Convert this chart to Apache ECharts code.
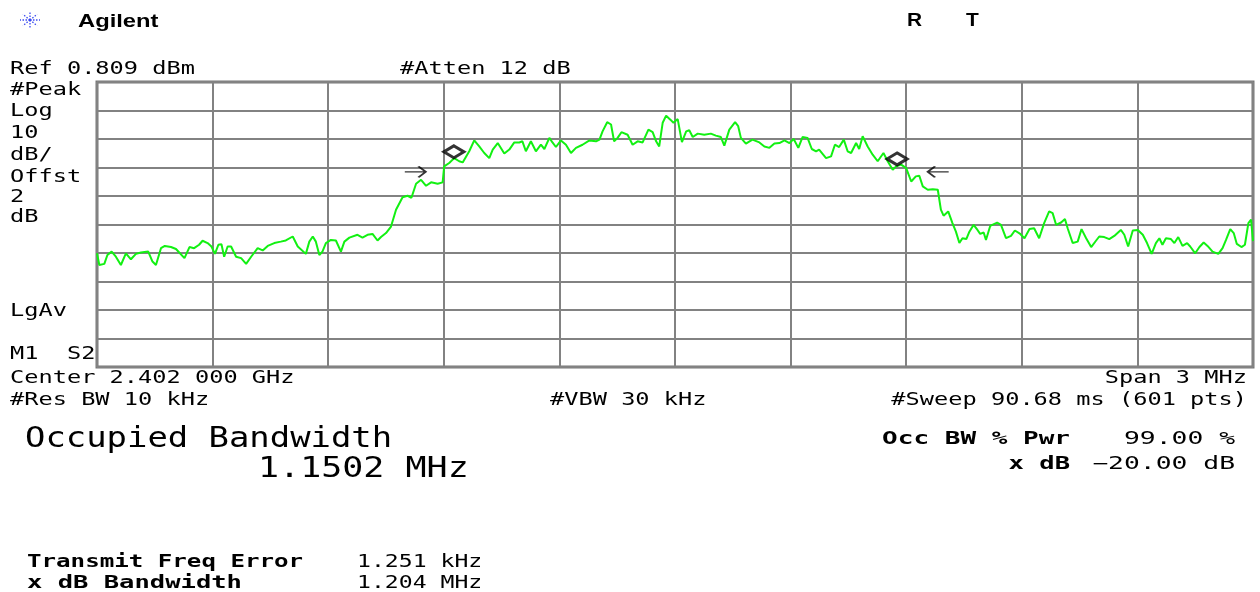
<!DOCTYPE html>
<html>
<head>
<meta charset="utf-8">
<script src="https://cdn.jsdelivr.net/npm/echarts@6/dist/echarts.min.js"></script>
<style>
  html, body { margin: 0; padding: 0; background: #fff; }
  #chart { width: 1260px; height: 592px; }
</style>
</head>
<body>
<div id="chart"></div>
<script>
// reference level of the display (dBm), 10 dB/div
const REF_LEVEL = 0.809

// trace: offset from center (kHz) and level (dBm)
const traceFreqKHz = [-1500,-1494,-1481,-1473,-1462,-1451,-1438,-1425,-1412,-1399,
  -1386,-1367,-1356,-1347,-1334,-1324,-1308,-1295,-1273,-1260,
  -1248,-1235,-1226,-1213,-1203,-1194,-1185,-1177,-1170,-1161,
  -1152,-1139,-1126,-1113,-1100,-1083,-1070,-1057,-1040,-1023,
  -1010,-992,-979,-958,-949,-940,-932,-923,-915,-906,
  -893,-880,-867,-858,-845,-824,-811,-798,-785,-772,
  -763,-750,-737,-724,-707,-694,-684,-672,-659,-646,
  -633,-616,-603,-599,-586,-573,-560,-551,-534,-521,
  -508,-495,-482,-473,-460,-443,-430,-417,-404,-396,
  -387,-374,-361,-348,-339,-326,-318,-309,-296,-283,
  -270,-257,-240,-222,-205,-196,-188,-176,-166,-158,
  -149,-139,-123,-110,-97,-84,-69,-58,-49,-41,
  -32,-23,-12,-4,7,18,29,37,46,59,
  76,93,106,119,128,141,156,164,171,184,
  201,219,232,245,258,271,284,297,308,320,
  331,344,355,366,374,392,405,415,426,438,
  448,457,470,478,487,500,513,526,541,552,
  565,574,587,600,613,625,634,643,656,669,
  682,690,697,709,720,729,738,746,756,764,
  775,785,792,801,807,818,836,846,859,872,
  882,896,907,920,932,945,958,971,980,989,
  1002,1012,1019,1032,1045,1055,1067,1080,1093,1101,
  1114,1127,1140,1157,1166,1176,1188,1201,1214,1225,
  1237,1248,1257,1265,1274,1287,1296,1306,1317,1329,
  1337,1350,1361,1372,1382,1395,1410,1421,1430,1441,
  1450,1458,1470,1479,1488,1495,1500]
const traceLevelDbm = [-59.3,-63.4,-63.0,-59.9,-58.7,-60.5,-63.4,-59.3,-61.4,-59.5,
  -59.0,-58.7,-62.2,-63.4,-57.5,-56.7,-57.1,-57.8,-61.0,-57.1,
  -57.5,-56.3,-54.9,-55.7,-56.9,-59.5,-56.3,-56.1,-60.5,-56.9,
  -56.9,-60.5,-61.0,-63.0,-60.5,-57.5,-58.3,-56.7,-55.7,-55.2,
  -54.8,-53.4,-56.9,-59.5,-55.2,-53.4,-55.2,-59.9,-58.7,-55.7,
  -54.6,-54.8,-58.7,-55.2,-53.8,-52.8,-53.8,-52.8,-52.5,-54.8,
  -53.6,-52.2,-49.9,-44.0,-39.6,-39.1,-39.8,-34.9,-33.5,-35.6,
  -34.4,-34.9,-34.4,-28.8,-27.6,-25.9,-27.0,-27.4,-23.5,-19.7,
  -21.8,-24.1,-25.9,-22.9,-20.6,-24.3,-22.9,-20.4,-20.4,-20.0,
  -23.5,-20.0,-23.5,-21.2,-22.7,-18.8,-20.4,-22.0,-19.7,-21.2,
  -24.1,-22.3,-21.2,-19.7,-20.0,-19.4,-16.5,-13.3,-14.1,-20.0,
  -18.8,-16.8,-17.7,-21.2,-20.0,-20.4,-15.9,-16.8,-20.0,-21.8,
  -13.5,-11.0,-12.4,-13.5,-12.2,-20.3,-16.5,-16.1,-18.5,-17.3,
  -17.7,-17.3,-18.0,-18.5,-21.5,-15.9,-13.3,-14.7,-18.8,-20.8,
  -19.4,-20.4,-21.8,-22.3,-20.8,-20.6,-19.7,-20.6,-19.2,-22.3,
  -18.5,-18.8,-22.7,-23.5,-22.9,-25.9,-25.3,-21.2,-22.0,-19.4,
  -23.5,-24.1,-20.6,-22.7,-18.2,-21.8,-24.7,-27.0,-24.1,-27.0,
  -30.0,-28.8,-28.2,-29.4,-34.1,-32.3,-32.1,-35.8,-37.0,-36.8,
  -37.0,-44.0,-46.1,-44.6,-48.7,-51.7,-55.7,-54.0,-54.3,-51.7,
  -49.3,-51.1,-52.5,-52.0,-54.6,-49.7,-48.5,-49.3,-54.0,-53.2,
  -51.3,-52.5,-54.0,-50.8,-50.5,-54.0,-48.7,-44.6,-45.2,-49.3,
  -48.5,-47.3,-50.5,-55.7,-55.2,-50.8,-54.0,-57.1,-54.8,-53.4,
  -53.6,-54.3,-53.2,-51.1,-52.8,-56.9,-51.3,-51.1,-52.8,-55.7,
  -59.5,-55.7,-54.0,-56.3,-54.0,-54.3,-55.7,-53.6,-56.7,-55.7,
  -56.9,-59.3,-57.1,-55.5,-56.7,-58.7,-59.5,-57.5,-54.6,-50.8,
  -52.2,-56.0,-57.1,-56.3,-48.7,-47.5,-55.0]

// measurement results
const occBwMHz = 1.1502
const freqErrKHz = 1.251
const xdbBwMHz = 1.204
const occPwrPct = 99.0
const xdB = -20.0

// marker diamonds sit on the occupied bandwidth edges
const markerLevelDbm = [-23.7, -26.2]
// x dB arrows
const arrowFreqKHz = [-674, 683]
const arrowLevelDbm = [-30.7, -30.7]

const chart = echarts.init(document.getElementById('chart'))

const traceData = traceFreqKHz.map((f, i) => [f, +(traceLevelDbm[i] - REF_LEVEL).toFixed(2)])
const markerFreq = [freqErrKHz - occBwMHz * 500, freqErrKHz + occBwMHz * 500]
const markerData = markerFreq.map((f, i) => [f, markerLevelDbm[i] - REF_LEVEL])
const arrowData = arrowFreqKHz.map((f, i) => [f, arrowLevelDbm[i] - REF_LEVEL])

const MONO = '"DejaVu Sans Mono", "Liberation Mono", monospace'

function txt(text, x, y, o) {
  o = o || {}
  const al = o.align || 'left'
  return {
    type: 'text', x: x, y: y, scaleX: o.sx || 1.39, silent: true,
    style: {
      text: text, fill: '#000',
      font: (o.bold ? 'bold ' : '') + (o.size || 17) + 'px ' + (o.family || MONO),
      align: al, textAlign: al, verticalAlign: 'middle', textVerticalAlign: 'middle'
    }
  }
}

// Agilent logo starburst
const logo = []
for (let k = 0; k < 8; k++) {
  const a = k * Math.PI / 4
  logo.push({
    type: 'line', silent: true,
    shape: { x1: 30, y1: 20, x2: 30 + Math.cos(a) * 10, y2: 20 + Math.sin(a) * 8 },
    style: { stroke: '#3c4cf0', lineWidth: 1.3, lineDash: [1.5, 1.5] }
  })
}

const texts = [
  txt('Agilent', 78, 22, { bold: true, size: 19, sx: 1.25, family: '"Liberation Sans", Arial, sans-serif' }),
  txt('R', 907, 21, { bold: true, size: 19, sx: 1.1, family: '"Liberation Sans", Arial, sans-serif' }),
  txt('T', 966, 21, { bold: true, size: 19, sx: 1.1, family: '"Liberation Sans", Arial, sans-serif' }),
  txt('Ref 0.809 dBm', 10, 70),
  txt('#Atten 12 dB', 400, 70),
  txt('#Peak', 10, 90.5),
  txt('Log', 10, 112),
  txt('10', 10, 133.5),
  txt('dB/', 10, 155.5),
  txt('Offst', 10, 177.5),
  txt('2', 10, 198),
  txt('dB', 10, 218),
  txt('LgAv', 10, 312),
  txt('M1  S2', 10, 355),
  txt('Center 2.402 000 GHz', 10, 379),
  txt('Span 3 MHz', 1247, 379, { align: 'right' }),
  txt('#Res BW 10 kHz', 10, 401),
  txt('#VBW 30 kHz', 550, 401),
  txt('#Sweep 90.68 ms (601 pts)', 1247, 401, { align: 'right' }),
  txt('Occupied Bandwidth', 25, 440, { size: 28, sx: 1.21 }),
  txt(occBwMHz.toFixed(4) + ' MHz', 258, 470, { size: 28, sx: 1.25 }),
  txt('Occ BW % Pwr', 1070, 440, { bold: true, align: 'right', sx: 1.53 }),
  txt(occPwrPct.toFixed(2) + ' %', 1235, 440, { align: 'right', sx: 1.55 }),
  txt('x dB', 1070, 465, { bold: true, align: 'right', sx: 1.5 }),
  txt('\u2212' + Math.abs(xdB).toFixed(2) + ' dB', 1235, 465, { align: 'right', sx: 1.55 }),
  txt('Transmit Freq Error', 27, 563, { bold: true, sx: 1.42 }),
  txt(freqErrKHz.toFixed(3) + ' kHz', 357, 563, { sx: 1.36 }),
  txt('x dB Bandwidth', 27, 584, { bold: true, sx: 1.5 }),
  txt(xdbBwMHz.toFixed(3) + ' MHz', 357, 584, { sx: 1.36 })
]

const option = {
  backgroundColor: '#fff',
  animation: false,
  grid: {
    left: 97, right: 7, top: 82, bottom: 225,
    show: true, borderColor: '#777', borderWidth: 3
  },
  xAxis: {
    type: 'value', min: -1500, max: 1500, interval: 300,
    axisLine: { show: false }, axisTick: { show: false }, axisLabel: { show: false },
    splitLine: { show: true, lineStyle: { color: '#828282', width: 2 } }
  },
  yAxis: {
    type: 'value', min: -100, max: 0, interval: 10,
    axisLine: { show: false }, axisTick: { show: false }, axisLabel: { show: false },
    splitLine: { show: true, lineStyle: { color: '#828282', width: 2 } }
  },
  series: [
    {
      type: 'line', data: traceData, showSymbol: false, smooth: false,
      lineStyle: { color: '#12f012', width: 2 }, z: 3
    },
    {
      type: 'scatter', data: markerData, symbol: 'diamond', symbolSize: [20, 12],
      itemStyle: { color: '#fff', borderColor: '#000', borderWidth: 3.2 }, z: 5
    },
    {
      type: 'scatter',
      data: arrowData.map((d, i) => ({ value: d, symbolRotate: i === 0 ? 0 : 180 })),
      symbol: 'path://M0,6 L20,6 M13,0 L20,6 L13,12', symbolSize: [21, 11],
      itemStyle: { color: 'none', borderColor: '#000', borderWidth: 1.8 }, z: 5
    }
  ],
  graphic: logo.concat(texts)
}
chart.setOption(option)
</script>
</body>
</html>
